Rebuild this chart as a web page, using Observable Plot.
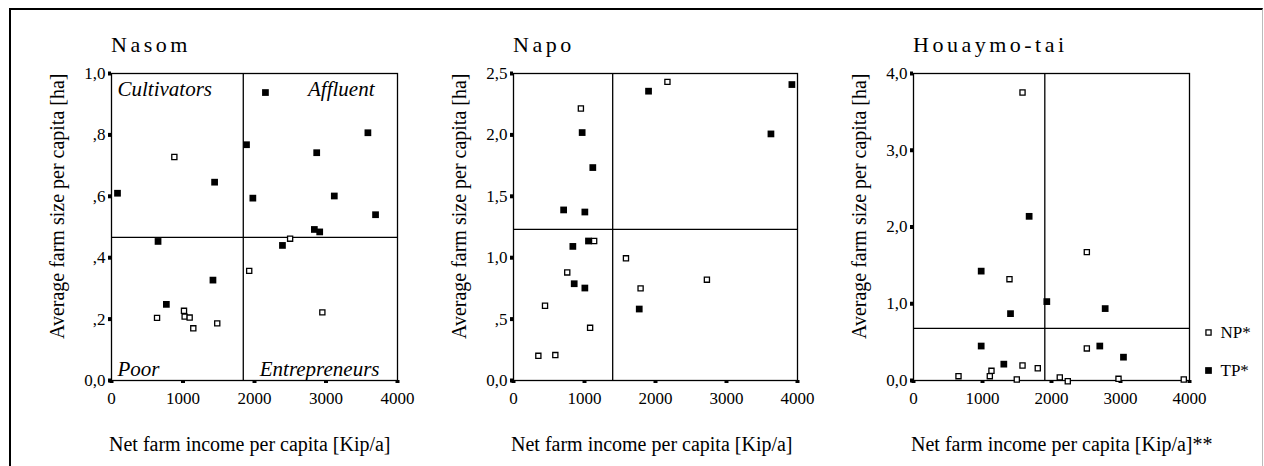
<!DOCTYPE html>
<html><head><meta charset="utf-8">
<script src="https://cdn.jsdelivr.net/npm/d3@7"></script>
<script src="https://cdn.jsdelivr.net/npm/@observablehq/plot@0.6"></script>
<style>
body{margin:0;background:#fff;}
#wrap{position:relative;width:1264px;height:466px;overflow:hidden;color:#000;}
#wrap > svg{position:absolute;left:0;top:0;margin:0;}
.box{position:absolute;left:9px;top:8px;width:1251px;height:480px;border-top:2px solid #000;border-left:2px solid #000;border-right:1px solid #bbb;}
.title{position:absolute;font-size:22px;line-height:22px;letter-spacing:3.5px;white-space:nowrap;}
.xlab{position:absolute;font-size:20px;line-height:20px;white-space:nowrap;}
</style></head><body><div id="wrap" style="font-family:'Liberation Serif', serif"><div class="box"></div></div>
<script>
// ---------- data ----------
const panelTitles = ["Nasom", "Napo", "Houaymo-tai"];
const xTicks = [0, 1000, 2000, 3000, 4000];
const xTickLabels = ["0", "1000", "2000", "3000", "4000"];
const yLabel = "Average farm size per capita [ha]";
const xLabels = ["Net farm income per capita [Kip/a]", "Net farm income per capita [Kip/a]", "Net farm income per capita [Kip/a]**"];
const quadrantLabels = ["Cultivators", "Affluent", "Poor", "Entrepreneurs"];
const legendKeys = ["NP*", "TP*"];

// Nasom
const nasomYTicks = [0, 0.2, 0.4, 0.6, 0.8, 1.0];
const nasomYTickLabels = ["0,0", ",2", ",4", ",6", ",8", "1,0"];
const nasomDividers = [1843, 0.466];
const nasomTP = [[84,0.610],[2153,0.938],[1888,0.768],[1977,0.594],[1442,0.646],[2870,0.742],[3586,0.807],[3116,0.601],[3693,0.540],[2837,0.492],[2912,0.484],[2391,0.440],[651,0.453],[1419,0.327],[767,0.248]];
const nasomNP = [[879,0.728],[2498,0.462],[1926,0.357],[2949,0.222],[637,0.204],[1014,0.227],[1023,0.208],[1093,0.205],[1144,0.170],[1479,0.186]];

// Napo
const napoYTicks = [0, 0.5, 1.0, 1.5, 2.0, 2.5];
const napoYTickLabels = ["0,0", ",5", "1,0", "1,5", "2,0", "2,5"];
const napoDividers = [1397, 1.231];
const napoTP = [[1902,2.356],[3921,2.410],[3626,2.008],[967,2.019],[1117,1.734],[706,1.389],[1005,1.372],[1056,1.136],[836,1.092],[855,0.788],[1005,0.753],[1771,0.582]];
const napoNP = [[2168,2.432],[949,2.215],[1136,1.136],[1584,0.995],[757,0.880],[1790,0.750],[2724,0.821],[444,0.609],[1079,0.429],[350,0.201],[589,0.207]];

// Houaymo-tai
const houYTicks = [0, 1, 2, 3, 4];
const houYTickLabels = ["0,0", "1,0", "2,0", "3,0", "4,0"];
const houDividers = [1903, 0.680];
const houTP = [[1676,2.139],[981,1.425],[1932,1.028],[1406,0.871],[2778,0.937],[981,0.449],[2700,0.449],[3043,0.304],[1309,0.213]];
const houNP = [[1580,3.752],[2512,1.673],[1391,1.320],[2512,0.418],[1580,0.196],[1801,0.160],[1130,0.126],[1106,0.056],[652,0.056],[1497,0.013],[2120,0.040],[2236,-0.010],[2971,0.022],[3917,0.013]];

// ---------- layout ----------
const W = 1264, H = 466;
const frames = [
  {L:111, R:397, T:73, B:380},
  {L:513, R:797, T:73, B:380},
  {L:913, R:1189, T:73, B:380}
];
const FONT = "'Liberation Serif', serif";
const wrap = document.getElementById("wrap");

function panel(i, cfg) {
  const {L, R, T, B} = frames[i];
  const yfmt = new Map(cfg.yticks.map((t, k) => [t, cfg.ylabels[k]]));
  const xfmt = new Map(xTicks.map((t, k) => [t, xTickLabels[k]]));
  const marks = [
    Plot.ruleX([cfg.div[0]], {stroke: "#000", strokeWidth: 1.3}),
    Plot.ruleY([cfg.div[1]], {stroke: "#000", strokeWidth: 1.3}),
    Plot.frame({stroke: "#000", strokeWidth: 1.3}),
    Plot.axisX({ticks: xTicks, tickFormat: d => xfmt.get(d), tickSize: 3, strokeWidth: 4, tickPadding: 8, fontSize: 17, label: null}),
    Plot.axisY({ticks: cfg.yticks, tickFormat: d => yfmt.get(d), tickSize: 3, strokeWidth: 4, tickPadding: 3, fontSize: 17, label: null}),
    Plot.text([yLabel], {text: d => d, frameAnchor: "top-left", rotate: -90, textAnchor: "end", lineAnchor: "middle", dx: -54, fontSize: 20}),
    Plot.dot(cfg.np, {x: d => d[0], y: d => d[1], symbol: "square", r: 2.9, fill: "#fff", stroke: "#000", strokeWidth: 1.3}),
    Plot.dot(cfg.tp, {x: d => d[0], y: d => d[1], symbol: "square", r: 3.8, fill: "#000", stroke: "none"})
  ];
  if (cfg.quadrants) {
    const q = quadrantLabels;
    marks.push(
      Plot.text([q[0]], {text: d => d, frameAnchor: "top-left", textAnchor: "start", lineAnchor: "top", dx: 6, dy: 8, fontSize: 21, fontStyle: "italic"}),
      Plot.text([q[1]], {text: d => d, frameAnchor: "top-right", textAnchor: "end", lineAnchor: "top", dx: -23, dy: 8, fontSize: 21, fontStyle: "italic"}),
      Plot.text([q[2]], {text: d => d, frameAnchor: "bottom-left", textAnchor: "start", lineAnchor: "bottom", dx: 6, dy: -5, fontSize: 21, fontStyle: "italic"}),
      Plot.text([q[3]], {text: d => d, frameAnchor: "bottom-right", textAnchor: "end", lineAnchor: "bottom", dx: -18, dy: -5, fontSize: 21, fontStyle: "italic"})
    );
  }
  const svg = Plot.plot({
    width: W, height: H,
    marginLeft: L, marginRight: W - R, marginTop: T, marginBottom: H - B,
    x: {domain: [0, 4000]},
    y: {domain: cfg.ydom},
    style: {background: "transparent", fontSize: "17px", color: "#000", overflow: "visible"},
    marks
  });
  wrap.appendChild(svg);

  const t = document.createElement("div");
  t.className = "title";
  t.textContent = panelTitles[i];
  t.style.left = L + "px";
  t.style.top = "34px";
  t.style.fontFamily = FONT;
  wrap.appendChild(t);

  const xl = document.createElement("div");
  xl.className = "xlab";
  xl.textContent = xLabels[i];
  xl.style.left = (L - 2) + "px";
  xl.style.top = "434px";
  xl.style.fontFamily = FONT;
  wrap.appendChild(xl);
}

panel(0, {ydom: [0, 1], yticks: nasomYTicks, ylabels: nasomYTickLabels, div: nasomDividers, tp: nasomTP, np: nasomNP, quadrants: true});
panel(1, {ydom: [0, 2.5], yticks: napoYTicks, ylabels: napoYTickLabels, div: napoDividers, tp: napoTP, np: napoNP});
panel(2, {ydom: [0, 4], yticks: houYTicks, ylabels: houYTickLabels, div: houDividers, tp: houTP, np: houNP});

// legend
const leg = Plot.plot({
  width: 69, height: 80,
  marginLeft: 0, marginRight: 0, marginTop: 22, marginBottom: 20,
  x: {axis: null, domain: [0, 1]},
  y: {type: "point", domain: legendKeys, padding: 0, axis: null},
  style: {background: "transparent", fontSize: "17px", color: "#000", overflow: "visible"},
  marks: [
    Plot.dot([legendKeys[0]], {y: d => d, frameAnchor: "left", dx: 13, symbol: "square", r: 2.9, fill: "#fff", stroke: "#000", strokeWidth: 1.3}),
    Plot.dot([legendKeys[1]], {y: d => d, frameAnchor: "left", dx: 13, symbol: "square", r: 3.8, fill: "#000", stroke: "none"}),
    Plot.text(legendKeys, {y: d => d, text: d => d, frameAnchor: "left", dx: 25, textAnchor: "start", fontSize: 17})
  ]
});
leg.style.left = "1195px";
leg.style.top = "310px";
wrap.appendChild(leg);

// force serif on every svg element/text
d3.selectAll("#wrap svg").style("font-family", FONT, "important");
d3.selectAll("#wrap svg text, #wrap svg g").style("font-family", FONT, "important");
</script>
</body></html>
